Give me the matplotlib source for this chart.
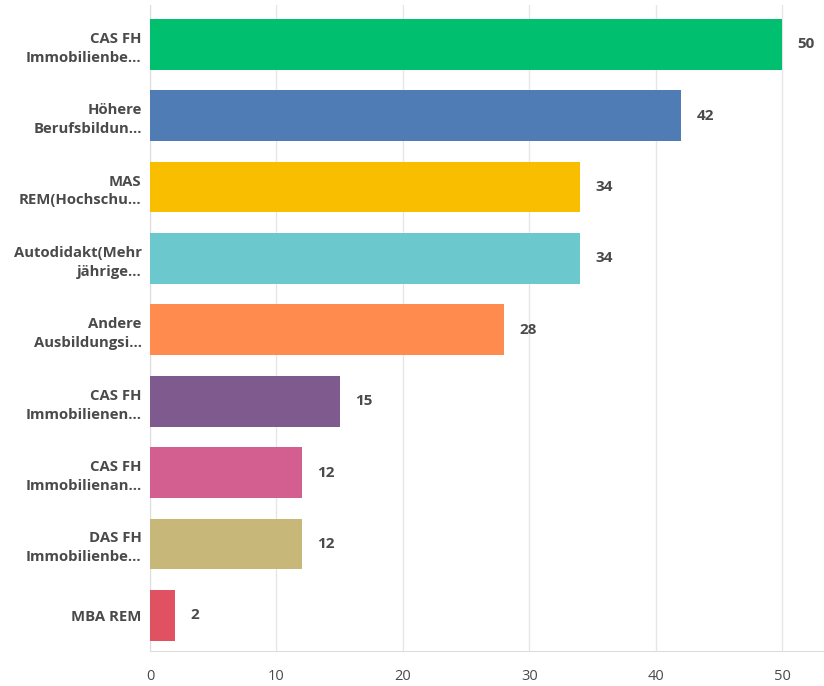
import matplotlib
matplotlib.use("Agg")
import matplotlib.pyplot as plt

# Antworten und Anzahl Nennungen
labels = [
    "CAS FH\nImmobilienbe...",
    "Höhere\nBerufsbildun...",
    "MAS\nREM(Hochschu...",
    "Autodidakt(Mehr\njährige...",
    "Andere\nAusbildungsi...",
    "CAS FH\nImmobilienen...",
    "CAS FH\nImmobilienan...",
    "DAS FH\nImmobilienbe...",
    "MBA REM",
]
values = [50, 42, 34, 34, 28, 15, 12, 12, 2]
colors = ["#00BF6F", "#507CB6", "#F9BE00", "#6BC8CD", "#FF8B4F",
          "#7F5A8F", "#D25F90", "#C7B879", "#E05161"]
xticks = [0, 10, 20, 30, 40, 50]

txt = "#4A4A4A"
plt.rcParams["font.family"] = ["Open Sans", "DejaVu Sans"]

fig = plt.figure(figsize=(8.24, 6.86), dpi=100)
ax = fig.add_axes([150 / 824, 35 / 686, 674 / 824, 646 / 686])

ypos = list(range(len(values)))
ax.barh(ypos, values, height=0.71, color=colors, zorder=3)

for y, v in zip(ypos, values):
    ax.text(v + 1.2, y, str(v), va="center", ha="left",
            fontsize=11, fontweight="bold", color=txt)

ax.set_xlim(0, 53.3)
ax.set_ylim(8.5, -0.55)
ax.set_yticks(ypos)
ax.set_yticklabels(labels, fontsize=10.7, fontweight="bold", color=txt,
                   ha="right", linespacing=1.45)
ax.set_xticks(xticks)
ax.set_xticklabels([str(t) for t in xticks], fontsize=10.5, color=txt)

ax.tick_params(axis="y", length=0, pad=6)
ax.tick_params(axis="x", length=0, pad=13)
ax.grid(axis="x", color="#E6E6E6", linewidth=1, zorder=0)
for s in ["top", "right"]:
    ax.spines[s].set_visible(False)
ax.spines["left"].set_color("#DDDDDD")
ax.spines["bottom"].set_color("#DDDDDD")

fig.savefig("out.png", dpi=100)
